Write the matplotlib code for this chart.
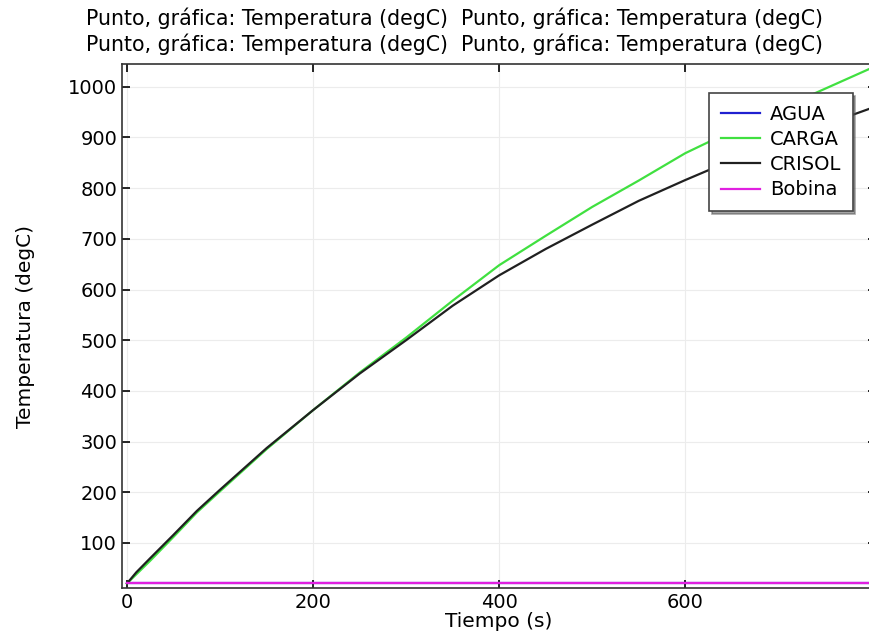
import matplotlib
matplotlib.use("Agg")
import matplotlib.pyplot as plt
import numpy as np

# tiempo (s)
t = [0, 10, 25, 50, 75, 100, 150, 200, 250, 300, 350, 400, 450, 500, 550, 600, 650, 700, 750, 800]
# temperaturas (degC)
agua = [20] * len(t)
carga = [20, 38, 65, 112, 160, 202, 285, 362, 436, 505, 578, 648, 706, 763, 815, 869, 913, 955, 996, 1037]
crisol = [20, 42, 70, 116, 163, 205, 287, 362, 434, 500, 568, 628, 680, 728, 775, 816, 855, 890, 925, 958]
bobina = [20] * len(t)

nombres = ["AGUA", "CARGA", "CRISOL", "Bobina"]
colores = ["#2020d0", "#40e040", "#202020", "#e020e0"]

fig = plt.figure(figsize=(8.7, 6.42), dpi=100)
ax = fig.add_axes([122/870, 1-588/642, (876-122)/870, (588-64)/642])

for serie, nom, col in zip([agua, carga, crisol, bobina], nombres, colores):
    ax.plot(t, serie, color=col, lw=1.6, label=nom)

ax.set_xlim(-5.4, 805)
ax.set_ylim(11, 1045)
ax.set_xticks([0, 200, 400, 600])
ax.set_yticks(np.arange(100, 1001, 100))
ax.tick_params(direction="in", top=True, right=True, labelsize=14, length=6, width=1.2)
ax.grid(color="#ececec", lw=0.8)
for s in ax.spines.values():
    s.set_color("#333333")
    s.set_linewidth(1.2)

ax.set_xlabel("Tiempo (s)", fontsize=14.5, labelpad=0)
ax.set_ylabel("Temperatura (degC)", fontsize=14.5, labelpad=24)

titulo = "Punto, gráfica: Temperatura (degC)  Punto, gráfica: Temperatura (degC)"
fig.text(455/870, 1-18/642, titulo, ha="center", va="center", fontsize=14.8)
fig.text(455/870, 1-44/642, titulo, ha="center", va="center", fontsize=14.8)

leg = ax.legend(loc="upper right", bbox_to_anchor=(0.982, 0.963), fontsize=14,
                fancybox=False, shadow=True, framealpha=1, edgecolor="#444444",
                handlelength=2.0, handletextpad=0.5, borderpad=0.6, labelspacing=0.32)
leg.get_frame().set_linewidth(1.2)

fig.savefig("out.png", dpi=100)
